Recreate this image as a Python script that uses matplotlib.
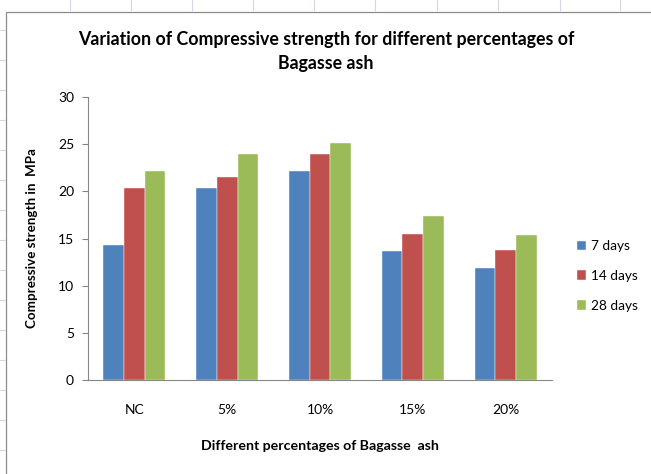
import numpy as np
import matplotlib.pyplot as plt
from matplotlib.patches import Rectangle
from matplotlib.lines import Line2D

categories = ["NC", "5%", "10%", "15%", "20%"]
days_7 = [14.35, 20.35, 22.2, 13.7, 11.85]
days_14 = [20.35, 21.5, 24.0, 15.5, 13.8]
days_28 = [22.2, 24.0, 25.1, 17.4, 15.35]
series = ["7 days", "14 days", "28 days"]
colors = ["#4F81BD", "#C0504D", "#9BBB59"]

plt.rcParams["font.family"] = ["Lato", "DejaVu Sans"]

fig = plt.figure(figsize=(6.51, 4.74), dpi=100)

# spreadsheet grid behind the chart
for xp in [70, 131, 192, 253, 314, 375, 437, 498, 560, 620]:
    fig.add_artist(Line2D([xp / 651, xp / 651], [1, 1 - 10 / 474], color="#d0d7e5", lw=0.8))
for yp in [30, 60, 90, 120, 150, 180, 210, 240, 270, 300, 330, 360, 390, 420, 450]:
    fig.add_artist(Line2D([0, 5 / 651], [1 - yp / 474, 1 - yp / 474], color="#d0d7e5", lw=0.8))
fig.add_artist(Rectangle((6 / 651, -0.01), 1, 1 - 12 / 474 + 0.01, transform=fig.transFigure,
                         fill=True, facecolor="white", edgecolor="#8c8c8c", lw=0.9, zorder=0))

ax = fig.add_axes([88 / 651, 1 - 380 / 474, 464 / 651, 283 / 474])
ax.set_facecolor("none")

x = np.arange(len(categories))
w = 0.223
for i, (vals, name) in enumerate(zip([days_7, days_14, days_28], series)):
    ax.bar(x + (i - 1) * w, vals, width=w, color=colors[i], label=name,
           edgecolor="white", linewidth=0.3)

ax.set_xlim(-0.5, len(categories) - 0.5)
ax.set_ylim(0, 30)
ax.set_yticks(range(0, 31, 5))
ax.set_xticks(x)
ax.set_xticklabels(categories)
ax.tick_params(axis="x", length=0, pad=17, labelsize=10)
ax.tick_params(axis="y", length=4, direction="out", color="#868686", labelsize=10, pad=6)
for s in ["top", "right"]:
    ax.spines[s].set_visible(False)
for s in ["left", "bottom"]:
    ax.spines[s].set_color("#868686")

ax.set_ylabel("Compressive strength in  MPa", fontsize=9.6, fontweight="bold")
ax.yaxis.set_label_coords(-0.108, 0.5)
ax.set_xlabel("Different percentages of Bagasse  ash", fontsize=10.2, fontweight="bold")
ax.xaxis.set_label_coords(0.5, -0.212)

fig.text(326 / 651, 1 - 40 / 474, "Variation of Compressive strength for different percentages of",
         ha="center", va="center", fontsize=12.8, fontweight="bold")
fig.text(326 / 651, 1 - 64 / 474, "Bagasse ash", ha="center", va="center",
         fontsize=12.8, fontweight="bold")

ax.legend(loc="center left", bbox_to_anchor=(565 / 651, 1 - 276 / 474),
          bbox_transform=fig.transFigure, frameon=False, fontsize=9.8,
          handlelength=0.65, handleheight=0.7, handletextpad=0.35, labelspacing=1.3)

fig.savefig("out.png", dpi=100)
